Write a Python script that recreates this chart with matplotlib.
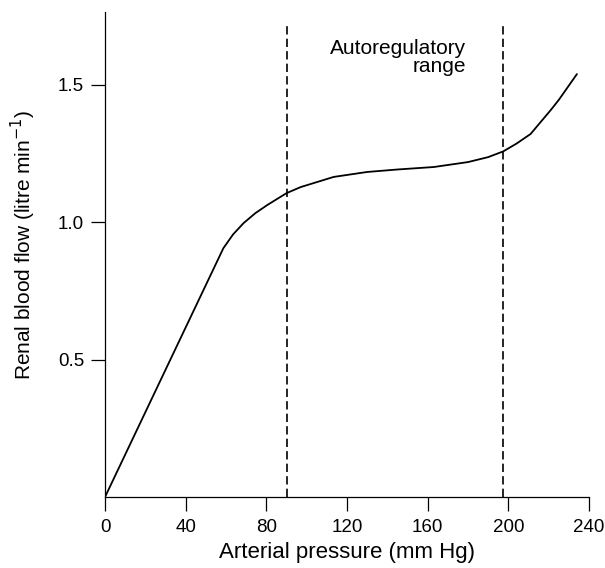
import numpy as np
import matplotlib
matplotlib.use('Agg')
import matplotlib.pyplot as plt

plt.rcParams['font.family'] = ['Liberation Sans', 'DejaVu Sans']

# renal blood flow vs arterial pressure
pressure = [0, 30.8, 58.7, 63.5, 68.7, 74.5, 80.5, 90, 97, 108.5, 113.4, 130,
            145, 163, 180, 190, 197.5, 204, 211, 221, 225, 234]
flow = [0, 0.475, 0.905, 0.955, 0.996, 1.032, 1.062, 1.105, 1.127, 1.153,
        1.164, 1.182, 1.191, 1.2, 1.218, 1.236, 1.257, 1.285, 1.32, 1.407,
        1.444, 1.538]

# autoregulatory range limits
range_limits = [90, 197.5]
range_top = 1.716

xticks = [0, 40, 80, 120, 160, 200, 240]
yticks = [0.5, 1.0, 1.5]

fig = plt.figure(figsize=(6.05, 5.68), dpi=100)
ax = fig.add_axes([0.1736, 0.125, 0.8, 0.854])

ax.plot(pressure, flow, color='black', lw=1.3, solid_capstyle='round')
for xv in range_limits:
    ax.plot([xv, xv], [0, range_top], color='black', lw=1.2, ls=(0, (5, 2.5)))

ax.text(179, 1.598, 'Autoregulatory\nrange', ha='right', va='center',
        fontsize=15, linespacing=0.95)

ax.set_xlim(0, 240)
ax.set_ylim(0, 1.764)
ax.set_xticks(xticks)
ax.set_yticks(yticks)
ax.set_yticklabels(['0.5', '1.0', '1.5'])

for s in ['top', 'right']:
    ax.spines[s].set_visible(False)
for s in ['left', 'bottom']:
    ax.spines[s].set_linewidth(0.9)

ax.tick_params(axis='both', direction='out', length=10, width=0.9,
               labelsize=13.5)
ax.tick_params(axis='y', pad=5)
ax.tick_params(axis='x', pad=6)

ax.set_xlabel('Arterial pressure (mm Hg)', fontsize=16, labelpad=4)
ax.set_ylabel('Renal blood flow (litre min$^{-1}$)', fontsize=15)
ax.yaxis.set_label_coords(-0.138, 0.52)

fig.savefig('out.png', dpi=100)
